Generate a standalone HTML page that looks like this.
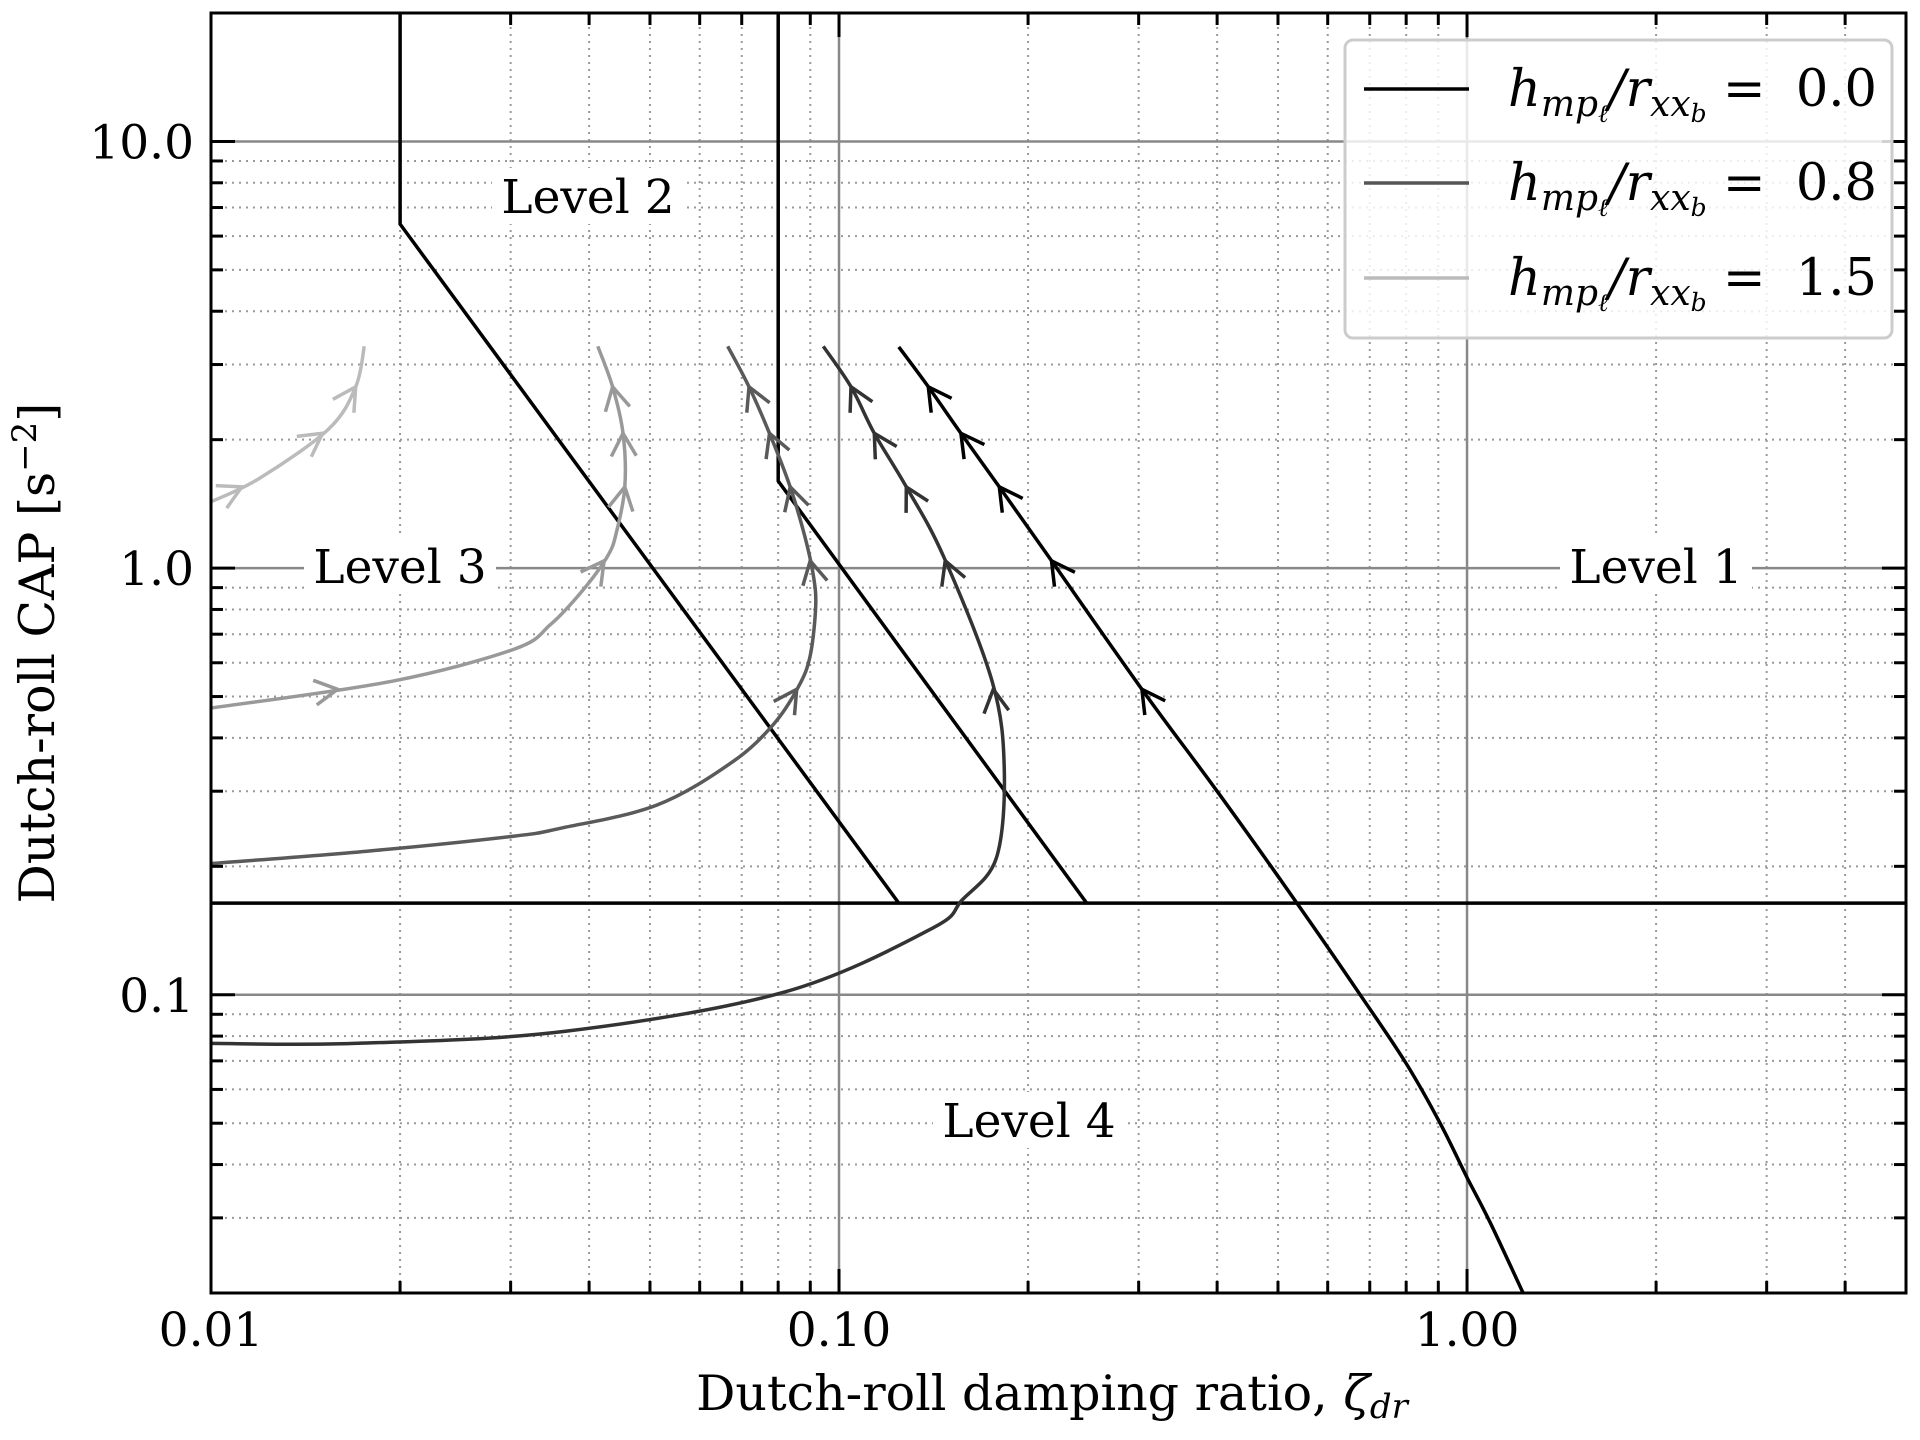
<!DOCTYPE html>
<html><head><meta charset="utf-8">
<style>
html,body{margin:0;padding:0;background:#fff;}
svg{display:block;font-family:"DejaVu Serif","Liberation Serif",serif;}
</style></head>
<body>
<svg id="chart" width="1920" height="1440" viewBox="0 0 1920 1440" xmlns="http://www.w3.org/2000/svg">
<g id="grid"></g>
<g id="bounds"></g>
<g id="series"></g>
<g id="labels"></g>
<g id="axes"></g>
<g id="legend"></g>
</svg>
<script>
// ---- data ----
const xTickVals = [0.01, 0.1, 1];
const xTickLabels = ["0.01", "0.10", "1.00"];
const yTickVals = [0.1, 1, 10];
const yTickLabels = ["0.1", "1.0", "10.0"];
const xDomain = [0.01, 5];
const yDomain = [0.02, 20];

const boundary12X = [0.08, 0.08, 0.248];
const boundary12Y = [20, 1.6, 0.164];
const boundary23X = [0.02, 0.02, 0.1245];
const boundary23Y = [20, 6.4, 0.164];
const boundary34X = [0.01, 5];
const boundary34Y = [0.164, 0.164];

const s0X = [1.228, 1.088, 1.0, 0.906, 0.80, 0.676, 0.536, 0.40, 0.305, 0.22, 0.18, 0.156, 0.1375, 0.1245];
const s0Y = [0.02, 0.0293, 0.0373, 0.05, 0.069, 0.1, 0.164, 0.30, 0.515, 1.02, 1.55, 2.08, 2.71, 3.3];
const s1X = [0.01, 0.0169, 0.0364, 0.0817, 0.140, 0.157, 0.178, 0.1833, 0.1754, 0.1466, 0.128, 0.1138, 0.1045, 0.0944];
const s1Y = [0.0769, 0.0769, 0.082, 0.1014, 0.1425, 0.1667, 0.209, 0.336, 0.541, 1.067, 1.55, 2.07, 2.66, 3.31];
const s2X = [0.01, 0.0177, 0.0303, 0.036, 0.0512, 0.0676, 0.0787, 0.0863, 0.090, 0.0918, 0.091, 0.0883, 0.0836, 0.0775, 0.0719, 0.0665];
const s2Y = [0.203, 0.217, 0.2353, 0.2456, 0.278, 0.351, 0.431, 0.529, 0.625, 0.815, 0.963, 1.18, 1.55, 2.07, 2.66, 3.31];
const s3X = [0.01, 0.0194, 0.0304, 0.0347, 0.0391, 0.0428, 0.0442, 0.0456, 0.0453, 0.0436, 0.0413];
const s3Y = [0.470, 0.543, 0.646, 0.737, 0.888, 1.067, 1.21, 1.55, 2.07, 2.66, 3.31];
const s4X = [0.01, 0.01197, 0.0154, 0.0170, 0.01754];
const s4Y = [1.43, 1.626, 2.12, 2.66, 3.31];
const arrowCAP = [0.52, 1.04, 1.55, 2.07, 2.66];

const legendValues = ["0.0", "0.8", "1.5"];
const legendColors = ["#000000", "#555555", "#bbbbbb"];

// ---- scales ----
const L=211,R=1906,T=13,B=1293;
const lx0=Math.log10(xDomain[0]), lx1=Math.log10(xDomain[1]);
const ly0=Math.log10(yDomain[0]), ly1=Math.log10(yDomain[1]);
function X(v){return L+(Math.log10(v)-lx0)/(lx1-lx0)*(R-L);}
function Y(v){return B-(Math.log10(v)-ly0)/(ly1-ly0)*(B-T);}
const NS="http://www.w3.org/2000/svg";
function mk(tag,attrs,parent){const e=document.createElementNS(NS,tag);for(const k in attrs)e.setAttribute(k,attrs[k]);parent.appendChild(e);return e;}
const gGrid=document.getElementById('grid'),gB=document.getElementById('bounds'),gS=document.getElementById('series'),gL=document.getElementById('labels'),gA=document.getElementById('axes'),gLeg=document.getElementById('legend');

// grid
const minorX=[],minorY=[];
for(let d=-2;d<=0;d++)for(let m=2;m<=9;m++){const v=m*Math.pow(10,d);if(v<=xDomain[1])minorX.push(v);}
for(let d=-2;d<=1;d++)for(let m=1;m<=9;m++){const v=m*Math.pow(10,d);if(v>=yDomain[0]&&v<=yDomain[1]&&m!==1)minorY.push(v);}
minorX.forEach(v=>{const l=mk('line',{x1:X(v),x2:X(v),y1:T,y2:B,stroke:'#999','stroke-width':2,'stroke-dasharray':'2,5'},gGrid);

});
minorY.forEach(v=>{const l=mk('line',{x1:L,x2:R,y1:Y(v),y2:Y(v),stroke:'#999','stroke-width':2,'stroke-dasharray':'2,5'},gGrid);

});
xTickVals.forEach(v=>{if(v>xDomain[0]){const l=mk('line',{x1:X(v),x2:X(v),y1:T,y2:B,stroke:'#888','stroke-width':2.5},gGrid);

}});
yTickVals.forEach(v=>{const l=mk('line',{x1:L,x2:R,y1:Y(v),y2:Y(v),stroke:'#888','stroke-width':2.5},gGrid);

});

function pathFrom(xs,ys){return xs.map((x,i)=>(i?'L':'M')+X(x).toFixed(1)+' '+Y(ys[i]).toFixed(1)).join(' ');}
function smoothFrom(xs,ys){
const P=xs.map((x,i)=>[X(x),Y(ys[i])]);
let d='M'+P[0][0].toFixed(1)+' '+P[0][1].toFixed(1);
for(let i=0;i<P.length-1;i++){
const p0=P[Math.max(0,i-1)],p1=P[i],p2=P[i+1],p3=P[Math.min(P.length-1,i+2)];
const c1=[p1[0]+(p2[0]-p0[0])/6,p1[1]+(p2[1]-p0[1])/6];
const c2=[p2[0]-(p3[0]-p1[0])/6,p2[1]-(p3[1]-p1[1])/6];
d+=` C${c1[0].toFixed(1)} ${c1[1].toFixed(1)} ${c2[0].toFixed(1)} ${c2[1].toFixed(1)} ${p2[0].toFixed(1)} ${p2[1].toFixed(1)}`;}
return d;}

// boundaries
[[boundary12X,boundary12Y,'level-1-2-boundary'],[boundary23X,boundary23Y,'level-2-3-boundary'],[boundary34X,boundary34Y,'level-4-boundary']].forEach(b=>{
const p=mk('path',{d:pathFrom(b[0],b[1]),fill:'none',stroke:'#000','stroke-width':3.5},gB);

});

// series
const series=[[s0X,s0Y,'#000000','series-h-0'],[s1X,s1Y,'#333333','series-h-0-4'],[s2X,s2Y,'#5a5a5a','series-h-0-8'],[s3X,s3Y,'#999999','series-h-1-1'],[s4X,s4Y,'#bbbbbb','series-h-1-5']];
series.forEach(s=>{
const xs=s[0],ys=s[1];
const p=mk('path',{d:smoothFrom(xs,ys),fill:'none',stroke:s[2],'stroke-width':3.5,'stroke-linejoin':'round'},gS);


arrowCAP.forEach(c=>{
for(let i=0;i<ys.length-1;i++){
const a=ys[i],b=ys[i+1];
if((c-a)*(c-b)<=0&&a!==b){
const t=(Math.log10(c)-Math.log10(a))/(Math.log10(b)-Math.log10(a));
const px=X(xs[i])+t*(X(xs[i+1])-X(xs[i])),py=Y(a)+t*(Y(b)-Y(a));
let dx=X(xs[i+1])-X(xs[i]),dy=Y(b)-Y(a);const n=Math.hypot(dx,dy);dx/=n;dy/=n;
const len=26,ang=0.5;
const bx=-dx,by=-dy;
const p1x=px+len*(bx*Math.cos(ang)-by*Math.sin(ang)),p1y=py+len*(bx*Math.sin(ang)+by*Math.cos(ang));
const p2x=px+len*(bx*Math.cos(-ang)-by*Math.sin(-ang)),p2y=py+len*(bx*Math.sin(-ang)+by*Math.cos(-ang));
const ar=mk('path',{d:`M${p1x.toFixed(1)} ${p1y.toFixed(1)} L${px.toFixed(1)} ${py.toFixed(1)} L${p2x.toFixed(1)} ${p2y.toFixed(1)}`,fill:'none',stroke:s[2],'stroke-width':3.5},gS);


break;}}
});
});

// level labels
[['Level 2',588,196],['Level 3',400,566],['Level 1',1656,566],['Level 4',1029,1120]].forEach(l=>{
const r=mk('rect',{x:l[1]-96,y:l[2]-28,width:192,height:56,fill:'#fff'},gL);


const t=mk('text',{x:l[1],y:l[2]+17,'text-anchor':'middle','font-size':47,fill:'#000'},gL);
t.textContent=l[0];

});

// axes frame & ticks
const fr=mk('rect',{x:L,y:T,width:R-L,height:B-T,fill:'none',stroke:'#000','stroke-width':3},gA);


function tick(x1,y1,x2,y2){const l=mk('line',{x1,y1,x2,y2,stroke:'#000','stroke-width':3},gA);

}
xTickVals.forEach(v=>{const x=X(v);tick(x,B,x,B-24);tick(x,T,x,T+24);});
minorX.forEach(v=>{const x=X(v);tick(x,B,x,B-12);tick(x,T,x,T+12);});
yTickVals.forEach(v=>{const y=Y(v);tick(L,y,L+24,y);tick(R,y,R-24,y);});
minorY.forEach(v=>{const y=Y(v);tick(L,y,L+12,y);tick(R,y,R-12,y);});
xTickVals.forEach((v,i)=>{const t=mk('text',{x:X(v),y:1346,'text-anchor':'middle','font-size':47},gA);t.textContent=xTickLabels[i];

});
yTickVals.forEach((v,i)=>{const t=mk('text',{x:194,y:Y(v)+17,'text-anchor':'end','font-size':47},gA);t.textContent=yTickLabels[i];

});
const xt=mk('text',{x:1052,y:1410,'text-anchor':'middle','font-size':49},gA);
xt.innerHTML='Dutch-roll damping ratio, <tspan font-style="italic">ζ</tspan><tspan font-style="italic" font-size="34" dy="8">dr</tspan>';


const yt=mk('text',{x:0,y:0,'text-anchor':'middle','font-size':49,transform:'translate(54,653) rotate(-90)'},gA);
yt.innerHTML='Dutch-roll CAP [s<tspan font-size="34" dy="-18">−2</tspan><tspan dy="18">]</tspan>';



// legend
const lb=mk('rect',{x:1345,y:40,width:547,height:298,rx:8,fill:'#fff','fill-opacity':0.82,stroke:'#cccccc','stroke-width':3},gLeg);


const rowsY=[89,183,278];
legendValues.forEach((v,i)=>{
const g=mk('g',{},gLeg);


mk('line',{x1:1364,x2:1469,y1:rowsY[i],y2:rowsY[i],stroke:legendColors[i],'stroke-width':3.5},g);
const t=mk('text',{x:1508,y:rowsY[i]+17,'font-size':51},g);
t.innerHTML='<tspan font-style="italic">h</tspan><tspan font-style="italic" font-size="36" dy="10">mp</tspan><tspan font-style="italic" font-size="25" dy="6">ℓ</tspan><tspan font-style="italic" dy="-16">/r</tspan><tspan font-style="italic" font-size="36" dy="10">xx</tspan><tspan font-style="italic" font-size="25" dy="6">b</tspan><tspan dy="-16" xml:space="preserve"> = </tspan><tspan dx="14">'+v+'</tspan>';


});
</script>
</body></html>
